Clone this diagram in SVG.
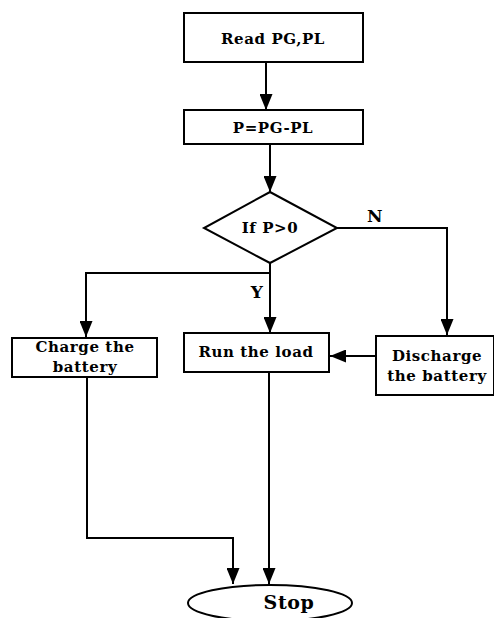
<svg xmlns="http://www.w3.org/2000/svg" width="494" height="618" viewBox="0 0 494 618">
<defs>
<marker id="ah" markerWidth="16" markerHeight="13" refX="16" refY="6.5" orient="auto" markerUnits="userSpaceOnUse" viewBox="0 0 16 13">
<path d="M0,0 L16,6.5 L0,13 Z" fill="#000"/>
</marker>
</defs>
<style>
.box{fill:#fff;stroke:#000;stroke-width:2}
.t{font-family:"DejaVu Serif","Liberation Serif",serif;font-weight:bold;font-size:15px;letter-spacing:0.6px;fill:#000;text-anchor:middle;dominant-baseline:central}
.lg{font-size:17px}
.xl{font-size:19px}
.c{fill:none;stroke:#000;stroke-width:2}
</style>
<rect width="494" height="618" fill="#fff"/>
<g id="connectors">
<path class="c" d="M266,62 V110" marker-end="url(#ah)"/>
<path class="c" d="M270,144 V192" marker-end="url(#ah)"/>
<path class="c" d="M270,263 V333" marker-end="url(#ah)"/>
<path class="c" d="M270,273 H86 V337" marker-end="url(#ah)"/>
<path class="c" d="M337,228 H447 V335" marker-end="url(#ah)"/>
<path class="c" d="M376,356 H330" marker-end="url(#ah)"/>
<path class="c" d="M87,377 V538 H233 V584" marker-end="url(#ah)"/>
<path class="c" d="M269,372 V584" marker-end="url(#ah)"/>
<text class="t lg" x="375" y="216">N</text>
<text class="t lg" x="257" y="292">Y</text>
</g>
<g id="read">
<rect class="box" x="184" y="13" width="179" height="49"/>
<text class="t" x="273" y="39">Read PG,PL</text>
</g>
<g id="calc">
<rect class="box" x="184" y="110" width="179" height="34"/>
<text class="t" x="273" y="128">P=PG-PL</text>
</g>
<g id="decision">
<polygon class="box" points="270,192 337,228 270,263 204,228"/>
<text class="t" x="270" y="228">If P&gt;0</text>
</g>
<g id="charge">
<rect class="box" x="12" y="338" width="145" height="39"/>
<text class="t" x="85" y="347">Charge the</text>
<text class="t" x="85" y="367">battery</text>
</g>
<g id="run">
<rect class="box" x="184" y="333" width="145" height="39"/>
<text class="t" x="256" y="352">Run the load</text>
</g>
<g id="discharge">
<rect class="box" x="376" y="336" width="118" height="59"/>
<text class="t" x="437" y="356">Discharge</text>
<text class="t" x="437" y="376">the battery</text>
</g>
<g id="stop">
<ellipse class="box" cx="270" cy="603" rx="82" ry="18"/>
<text class="t xl" x="289" y="602">Stop</text>
</g>
</svg>
